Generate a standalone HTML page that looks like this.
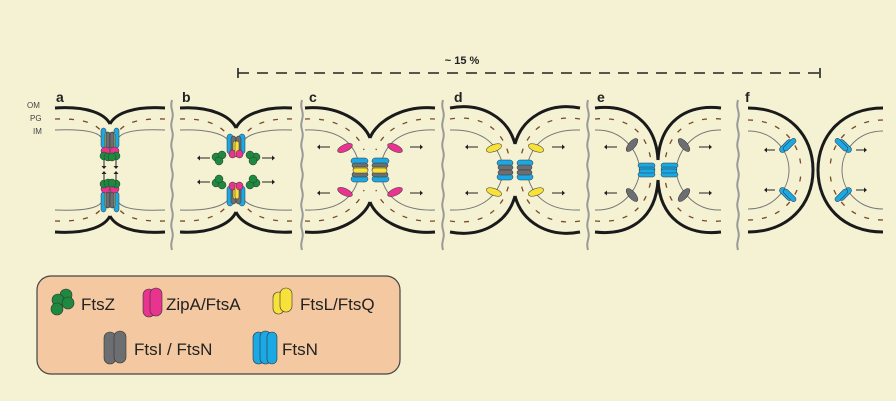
<!DOCTYPE html>
<html><head><meta charset="utf-8"><style>
html,body{margin:0;padding:0;background:#f5f2d4;}
svg{display:block;font-family:"Liberation Sans",sans-serif;}
</style></head><body>
<svg id="s" width="896" height="401" viewBox="0 0 896 401" xmlns="http://www.w3.org/2000/svg">
<rect width="896" height="401" fill="#f5f2d4"/>
<g id="panels"></g>
<text x="462" y="64" font-size="11" font-weight="bold" fill="#222" text-anchor="middle">~ 15 %</text>
<line x1="238" y1="73" x2="820" y2="73" stroke="#222" stroke-width="1.6" stroke-dasharray="11 8"/>
<line x1="238" y1="68" x2="238" y2="78" stroke="#222" stroke-width="1.6"/>
<line x1="820" y1="68" x2="820" y2="78" stroke="#222" stroke-width="1.6"/>
<g font-size="14" font-weight="bold" fill="#222">
<text x="56" y="102">a</text><text x="182" y="102">b</text><text x="309" y="102">c</text>
<text x="454" y="102">d</text><text x="597" y="102">e</text><text x="745" y="102">f</text>
</g>
<g font-size="8" fill="#444">
<text x="27" y="108">OM</text><text x="30" y="121">PG</text><text x="33" y="134">IM</text>
</g>
<rect x="37" y="276" width="363" height="98" rx="14" fill="#f4c9a1" stroke="#444" stroke-width="1.2"/>
<g stroke="#333" stroke-width="0.6">
<circle cx="66" cy="295" r="6" fill="#1f8a3f"/><circle cx="58" cy="300" r="6" fill="#1f8a3f"/>
<circle cx="68" cy="303" r="6" fill="#1f8a3f"/><circle cx="57" cy="309" r="6" fill="#1f8a3f"/>
<rect x="143" y="289" width="12" height="28" rx="6" fill="#e8338f"/><rect x="150" y="288" width="12" height="28" rx="6" fill="#e8338f"/>
<rect x="273" y="292" width="11" height="22" rx="5.5" fill="#f7e13a"/><rect x="280" y="288" width="12" height="24" rx="6" fill="#f7e13a"/>
<rect x="104" y="332" width="12" height="32" rx="6" fill="#6d6e71"/><rect x="114" y="331" width="12" height="32" rx="6" fill="#6d6e71"/>
<rect x="253" y="332" width="11" height="32" rx="5.5" fill="#1ba9e6"/><rect x="260" y="331" width="11" height="33" rx="5.5" fill="#1ba9e6"/><rect x="267" y="332" width="10" height="32" rx="5" fill="#1ba9e6"/>
</g>
<g font-size="17" fill="#222">
<text x="81" y="310">FtsZ</text><text x="166" y="310">ZipA/FtsA</text><text x="300" y="310">FtsL/FtsQ</text>
<text x="134" y="355">FtsI / FtsN</text><text x="282" y="355">FtsN</text>
</g>
</svg>
<script>
const C={b:"#1ba9e6",y:"#f7e13a",p:"#e8338f",g:"#6d6e71",z:"#1f8a3f"};
const P=[
 {cx:110,L:55,cy:124,c1:[88,106],c2:[105,114],im:[[55,130],[80,129],[96,131],[101,137]],
  pr:[["r",101,128,5,20,"b"],["r",105,132,5,18,"y"],["r",106,132,4,16,"g"],["r",101,147,9,8,"p"],["c",104,156,4,"z"],["c",108,157,4,"z"]],ar:[[104,160,104,166]]},
 {cx:236,L:180,cy:128,c1:[212,106],c2:[231,117],im:[[180,130],[205,129],[222,133],[228,140]],
  pr:[["r",227,134,6,20,"b"],["r",231,136,5,20,"g"],["r",233,141,4,16,"y"],["r",229,150,7,8,"p"],["c",216,157,4,"z"],["c",222,155,4,"z"],["c",219,161,4,"z"]],ar:[[210,158,200,158]]},
 {cx:370,L:305,cy:138,c1:[338,105],c2:[364,122],im:[[305,130],[335,129],[352,140],[358,160]],
  pr:[["h",351,158,17,6,"b"],["h",352,163,16,5,"g"],["h",353,167,15,5,"y"],["e",345,148,8,3.5,"p",-25]],ar:[[330,147,320,147]]},
 {cx:515,L:450,cy:144,c1:[482,102],c2:[508,118],im:[[450,130],[480,129],[496,142],[502,162]],
  pr:[["h",497,160,16,6,"b"],["h",498,165,15,5,"g"],["e",494,148,8,3.5,"y",-20]],ar:[[478,147,468,147]]},
 {cx:658,L:595,cy:160,c1:[630,104],c2:[656,122],im:[[595,130],[622,129],[638,150],[640,170]],
  pr:[["h",638,163,17,5,"b"],["h",639,167,16,4,"b"],["e",632,145,8,3.5,"g",-50]],ar:[[617,147,607,147]]},
];
const SVG="http://www.w3.org/2000/svg";
const root=document.getElementById("panels");
function el(t,a,p){const e=document.createElementNS(SVG,t);for(const k in a)e.setAttribute(k,a[k]);(p||root).appendChild(e);return e;}
function arrow(g,a){
  el("line",{x1:a[0],y1:a[1],x2:a[2],y2:a[3],stroke:"#222","stroke-width":1},g);
  const dx=a[2]-a[0],dy=a[3]-a[1],l=Math.hypot(dx,dy),ux=dx/l,uy=dy/l;
  el("path",{d:`M${a[2]+ux*3},${a[3]+uy*3} L${a[2]-uy*2.5},${a[3]+ux*2.5} L${a[2]+uy*2.5},${a[3]-ux*2.5}Z`,fill:"#222"},g);
}
function quad(g,p){
 const d=`M${p.L},108 C${p.c1[0]},${p.c1[1]} ${p.c2[0]},${p.c2[1]} ${p.cx},${p.cy}`;
 el("path",{d,fill:"none",stroke:"#1a1a1a","stroke-width":3},g);
 const pd=`M${p.L},119 C${p.c1[0]},${p.c1[1]+12} ${p.c2[0]-5},${p.c2[1]+12} ${p.cx-6},${p.cy+12}`;
 el("path",{d:pd,fill:"none",stroke:"#7a4a22","stroke-width":1.3,"stroke-dasharray":"5 9"},g);
 const m=p.im;
 el("path",{d:`M${m[0]} C${m[1]} ${m[2]} ${m[3]}`,fill:"none",stroke:"#777","stroke-width":1},g);
 for(const r of p.pr){
  if(r[0]=="r")el("rect",{x:r[1],y:r[2],width:r[3],height:r[4],rx:Math.min(r[3],r[4])/2,fill:C[r[5]],stroke:"#333","stroke-width":.5},g);
  else if(r[0]=="h")el("rect",{x:r[1],y:r[2],width:r[3],height:r[4],rx:r[4]/2,fill:C[r[5]],stroke:"#333","stroke-width":.5},g);
  else if(r[0]=="c")el("circle",{cx:r[1],cy:r[2],r:r[3],fill:C[r[4]],stroke:"#333","stroke-width":.5},g);
  else el("ellipse",{cx:r[1],cy:r[2],rx:r[3],ry:r[4],fill:C[r[5]],stroke:"#333","stroke-width":.5,transform:`rotate(${r[6]} ${r[1]} ${r[2]})`},g);
 }
 for(const a of p.ar)arrow(g,a);
}
for(const p of P){
 for(const [sx,sy] of [[1,1],[-1,1],[1,-1],[-1,-1]]){
  const g=el("g",{transform:`translate(${p.cx},170) scale(${sx},${sy}) translate(${-p.cx},-170)`});
  quad(g,p);
 }
}
// panel f
for(const [x,sx] of [[813,1],[818,-1]]){
  const L=x-65;
  for(const sy of [1,-1]){
   const g=el("g",{transform:`translate(${x},170) scale(${sx},${sy}) translate(${-x},-170)`});
   el("path",{d:`M${L},108 C${L+40},108 ${x},135 ${x},170`,fill:"none",stroke:"#1a1a1a","stroke-width":3},g);
   el("path",{d:`M${L},120 C${L+32},120 ${x-12},142 ${x-12},170`,fill:"none",stroke:"#7a4a22","stroke-width":1.3,"stroke-dasharray":"5 9"},g);
   el("path",{d:`M${L},131 C${L+25},131 ${x-24},150 ${x-24},170`,fill:"none",stroke:"#777","stroke-width":1},g);
   el("rect",{x:x-30,y:138,width:6,height:16,rx:3,fill:C.b,stroke:"#333","stroke-width":.5,transform:`rotate(45 ${x-27} 146)`},g);
   el("rect",{x:x-26,y:137,width:5,height:16,rx:2.5,fill:C.b,stroke:"#333","stroke-width":.5,transform:`rotate(45 ${x-23} 145)`},g);
   arrow(g,[x-38,150,x-46,150]);
  }
}
for(const x of [172,302,443,588,738]){
 let d=`M${x},100`;for(let y=100;y<=240;y+=10)d+=` Q${x+(y%20?1.5:-1.5)},${y+5} ${x},${y+10}`;
 el("path",{d,fill:"none",stroke:"#999","stroke-width":2});
}
</script>
</body></html>
